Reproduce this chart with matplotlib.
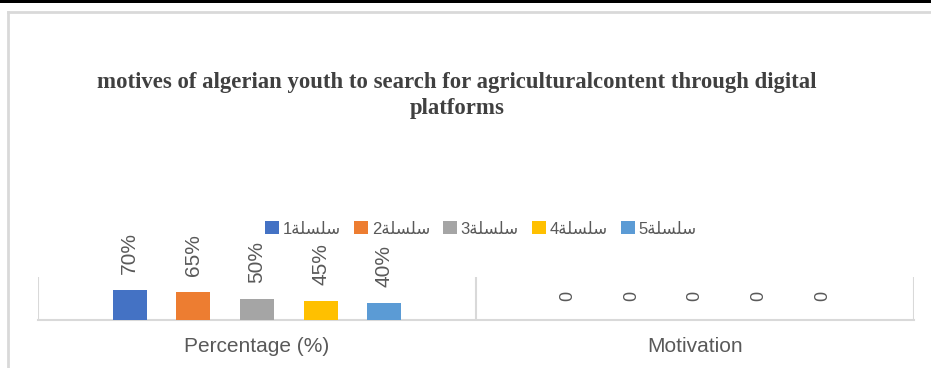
import matplotlib
matplotlib.use("Agg")
import matplotlib.pyplot as plt
from matplotlib.lines import Line2D
from matplotlib.patches import Rectangle
import numpy as np

# data
categories = ["Percentage (%)", "Motivation"]
series_names = ["سلسلة1", "سلسلة2", "سلسلة3", "سلسلة4", "سلسلة5"]
series_values = [
    [70, 0],
    [65, 0],
    [50, 0],
    [45, 0],
    [40, 0],
]
value_labels = [
    ["70%", "0"],
    ["65%", "0"],
    ["50%", "0"],
    ["45%", "0"],
    ["40%", "0"],
]
title = "motives of algerian youth to search for agriculturalcontent through digital\nplatforms"

COLORS = ["#4472C4", "#ED7D31", "#A5A5A5", "#FFC000", "#5B9BD5"]
GRID = "#D9D9D9"
TXT = "#595959"

# minimal arabic shaping (matplotlib has no bidi / joining)
FORMS = {
    "س": ("\ufeb1", "\ufeb2", "\ufeb3", "\ufeb4"),
    "ل": ("\ufedd", "\ufede", "\ufedf", "\ufee0"),
    "ة": ("\ufe93", "\ufe94", None, None),
}


def shape(label):
    word = "".join(c for c in label if c in FORMS)
    tail = "".join(c for c in label if c not in FORMS)
    out = []
    for i, c in enumerate(word):
        prev_joins = i > 0 and FORMS[word[i - 1]][2] is not None
        next_ok = i < len(word) - 1 and FORMS[c][2] is not None
        iso, fin, ini, med = FORMS[c]
        if prev_joins and next_ok:
            out.append(med)
        elif prev_joins:
            out.append(fin)
        elif next_ok:
            out.append(ini)
        else:
            out.append(iso)
    return tail + "".join(reversed(out))


fig = plt.figure(figsize=(9.31, 3.68), dpi=100)
W, H = 931, 368
ax = fig.add_axes([38 / W, 1 - 320 / H, (914 - 38) / W, 43 / H])

x = np.arange(len(categories))
step = 0.1455
bw = 0.0776
for i, (name, vals) in enumerate(zip(series_names, series_values)):
    pos = x + (i - 2) * step
    ax.bar(pos, vals, width=bw, color=COLORS[i], label=shape(name), zorder=3)
    for p, v, lab in zip(pos, vals, value_labels[i]):
        off = 11.5 if v > 0 else 14
        ax.annotate(lab, (p, v), xytext=(0, off), textcoords="offset points",
                    rotation=90, ha="center", va="bottom",
                    fontsize=15 if v > 0 else 13,
                    color=TXT, family="Liberation Sans", annotation_clip=False)

ax.set_xlim(-0.5, 1.5)
ax.set_ylim(0, 100)
ax.set_yticks([])
ax.set_xticks(x)
ax.set_xticklabels(categories, fontsize=15, color=TXT, family="Liberation Sans")
ax.tick_params(axis="x", length=0, pad=12)
for s in ["top", "right", "left"]:
    ax.spines[s].set_visible(False)
ax.spines["bottom"].set_color(GRID)
ax.spines["bottom"].set_linewidth(1.5)
for b in [-0.5, 0.5, 1.5]:
    ax.axvline(b, color=GRID, linewidth=1.5, zorder=1)

leg = fig.legend(loc="center", bbox_to_anchor=(481 / W, 1 - 229 / H), ncol=5,
                 frameon=False, handlelength=0.8, handleheight=0.8,
                 handletextpad=0.25, columnspacing=0.8,
                 prop={"family": ["Liberation Sans", "DejaVu Sans"], "size": 12})
for t in leg.get_texts():
    t.set_color(TXT)

fig.text(457 / W, 1 - 95.5 / H, title, ha="center", va="center", fontsize=16.4,
         fontweight="bold", family="Liberation Serif", color="#404040",
         linespacing=1.3)

# outer frame and top bar
fig.add_artist(Rectangle((0, 1 - 3 / H), 1, 3 / H, transform=fig.transFigure,
                         color="black", linewidth=0))
fig.add_artist(Line2D([8 / W, 1], [1 - 12 / H] * 2, transform=fig.transFigure,
                      color=GRID, linewidth=2))
fig.add_artist(Line2D([8 / W] * 2, [0, 1 - 12 / H], transform=fig.transFigure,
                      color=GRID, linewidth=2))

fig.savefig("out.png", dpi=100, facecolor="white")
